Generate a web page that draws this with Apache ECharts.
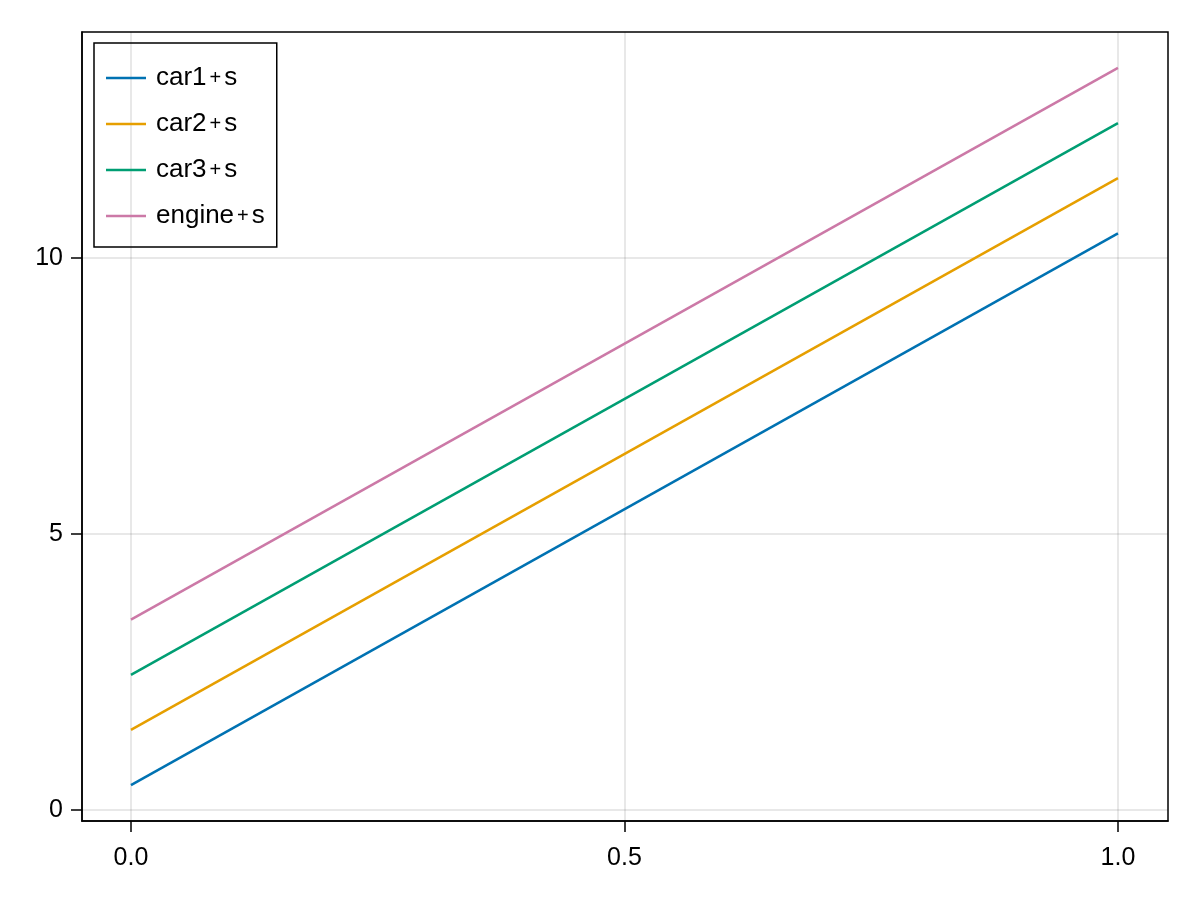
<!DOCTYPE html>
<html>
<head>
<meta charset="utf-8">
<script src="https://cdn.jsdelivr.net/npm/echarts@6/dist/echarts.min.js"></script>
<style>
  html, body { margin: 0; padding: 0; background: #fff; }
  #chart { width: 1200px; height: 900px; }
</style>
</head>
<body>
<div id="chart"></div>
<script>
const xs = [0, 1];
const car1 = [0.45, 10.45];
const car2 = [1.45, 11.45];
const car3 = [2.45, 12.45];
const engine = [3.45, 13.45];
const seriesNames = ['car1+s', 'car2+s', 'car3+s', 'engine+s'];
const xTicks = [0, 0.5, 1];
const yTicks = [0, 5, 10];

const colors = ['#0072B2', '#E69F00', '#009E73', '#CC79A7'];
const font = '"Liberation Sans", Arial, sans-serif';

function pairs(ys) {
    return xs.map((x, i) => [x, ys[i]]);
}

const chart = echarts.init(document.getElementById('chart'));

const option = {
    animation: false,
    color: colors,
    grid: { left: 82, top: 32, right: 32, bottom: 79 },
    legend: {
        left: 94,
        top: 43,
        orient: 'vertical',
        data: seriesNames,
        icon: 'path://M0,0L40,0L40,2.5L0,2.5Z',
        itemStyle: { borderWidth: 0 },
        borderColor: '#000',
        borderWidth: 1.5,
        padding: [22, 12, 18, 12],
        itemWidth: 40,
        itemHeight: 26,
        itemGap: 20,
        formatter: name => {
            const parts = name.split('+');
            return parts[0] + '{p|+}' + parts[1];
        },
        textStyle: {
            fontFamily: font, fontSize: 26, color: '#000', padding: [0, 0, 0, 5],
            rich: {
                p: { fontFamily: font, fontSize: 20, color: '#000', padding: [0, 3, 0, 3] }
            }
        }
    },
    xAxis: {
        type: 'value',
        min: -0.0496,
        max: 1.0507,
        axisLine: { show: true, onZero: false, lineStyle: { color: '#000', width: 1.5 } },
        axisTick: { show: true, length: 11, customValues: xTicks, lineStyle: { color: '#000', width: 1.5 } },
        axisLabel: {
            customValues: xTicks,
            margin: 25,
            fontFamily: font, fontSize: 25, color: '#000',
            formatter: v => v.toFixed(1)
        },
        splitLine: { show: true, lineStyle: { color: 'rgba(0,0,0,0.12)', width: 1.5 } }
    },
    yAxis: {
        type: 'value',
        min: -0.2,
        max: 14.1,
        axisLine: { show: true, onZero: false, lineStyle: { color: '#000', width: 1.5 } },
        axisTick: { show: true, length: 11, customValues: yTicks, lineStyle: { color: '#000', width: 1.5 } },
        axisLabel: {
            customValues: yTicks,
            margin: 19,
            fontFamily: font, fontSize: 25, color: '#000'
        },
        splitLine: { show: true, lineStyle: { color: 'rgba(0,0,0,0.12)', width: 1.5 } }
    },
    series: [car1, car2, car3, engine].map((ys, i) => ({
        name: seriesNames[i],
        type: 'line',
        data: pairs(ys),
        symbol: 'none',
        lineStyle: { width: 2.5, color: colors[i] },
        itemStyle: { color: colors[i] }
    }))
};

chart.setOption(option);

// frame on the top and right sides
chart.setOption({
    graphic: [{
        type: 'rect',
        shape: { x: 82, y: 32, width: 1086, height: 789 },
        style: { fill: 'none', stroke: '#000', lineWidth: 1.5 },
        silent: true
    }]
});
</script>
</body>
</html>
